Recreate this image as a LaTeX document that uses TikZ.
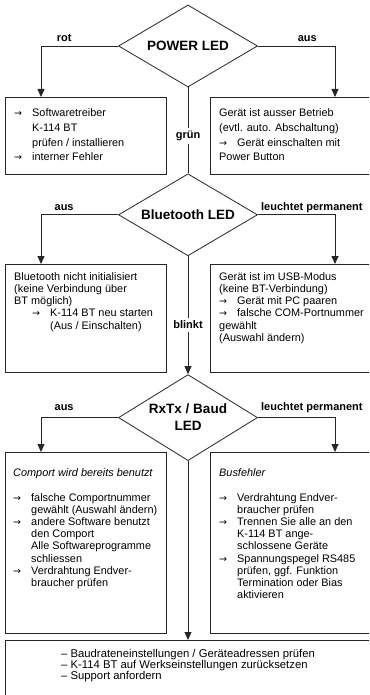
\documentclass[tikz,border=0pt]{standalone}
\usepackage{fontspec}
\setmainfont{Liberation Sans}
\newfontfamily\symfont{DejaVu Sans}
\usepackage{tikz}
\usetikzlibrary{shapes.geometric, positioning, arrows.meta}
\tikzset {
    >={Triangle[width=7pt,length=8pt]},
    decision/.style={diamond, aspect=1.7, draw=black!85, line width=0.8pt, minimum width=139pt,
        minimum height=82pt, inner sep=0pt, align=center,
        font=\fontsize{13.5}{17}\selectfont\bfseries},
    infobox/.style={draw=black!85, line width=0.7pt, anchor=north west, inner sep=0pt},
    infotext/.style={anchor=north west, inner sep=0pt, align=left,
        font=\fontsize{10.9}{12.1}\selectfont},
    lbl/.style={font=\fontsize{11}{12}\selectfont\bfseries, anchor=base, yshift=4pt},
    midlbl/.style={font=\fontsize{11}{12}\selectfont\bfseries, fill=white, inner sep=3pt},
    flow/.style={draw=black!85, line width=0.8pt}
}
\newcommand{\pfeil}{\makebox[18pt][l]{\symfont\fontsize{9.5}{10}\selectfont →}}
\newcommand{\einr}{\hspace*{18pt}}

\begin{document}
\begin{tikzpicture}[x=1pt, y=-1pt]
    \useasboundingbox (0,0) rectangle (369,695);
    \clip (0,0) rectangle (369,695);

    % decisions
    \node[decision] (power) at (188,46) {POWER LED};
    \node[decision, below=86pt of power] (bt) {Bluetooth LED};
    \node[decision, minimum height=86pt, below=118pt of bt] (rx) {RxTx / Baud\\LED};

    % boxes
    \node[infobox, minimum width=161pt, minimum height=77pt] (b1l) at (5,97) {};
    \node[infobox, minimum width=170pt, minimum height=77pt] (b1r) at (210,97) {};
    \node[infobox, minimum width=161pt, minimum height=108pt] (b2l) at (5,264) {};
    \node[infobox, minimum width=170pt, minimum height=108pt] (b2r) at (210,264) {};
    \node[infobox, minimum width=161pt, minimum height=181pt] (b3l) at (5,452) {};
    \node[infobox, minimum width=170pt, minimum height=181pt] (b3r) at (210,452) {};
    \node[infobox, minimum width=375pt, minimum height=80pt] (bot) at (5,640) {};

    \coordinate (xl) at (41,0);
    \coordinate (xr) at (335,0);

    % box texts
    \node[infotext, font=\fontsize{10.9}{14.8}\selectfont] (t1l) at (14,108.5)
        {\pfeil Softwaretreiber\\ \einr K-114 BT\\ \einr prüfen / installieren\\ \pfeil interner Fehler};
    \node[infotext, font=\fontsize{10.9}{14.8}\selectfont] (t1r) at (219,108.5)
        {Gerät ist ausser Betrieb\\ (evtl. auto. Abschaltung)\\ \pfeil Gerät einschalten mit\\ Power Button};
    \node[infotext] (t2l) at (14,272.5)
        {Bluetooth nicht initialisiert\\ (keine Verbindung über\\ BT möglich)\\ \einr\pfeil K-114 BT neu starten\\ \einr\einr (Aus / Einschalten)};
    \node[infotext] (t2r) at (219,272.5)
        {Gerät ist im USB-Modus\\ (keine BT-Verbindung)\\ \pfeil Gerät mit PC paaren\\ \pfeil falsche COM-Portnummer\\ gewählt\\ (Auswahl ändern)};
    \node[infotext] (t3l) at (13,468.5)
        {\textit{Comport wird bereits benutzt}\\[12.8pt] \pfeil falsche Comportnummer\\ \einr gewählt (Auswahl ändern)\\ \pfeil andere Software benutzt\\ \einr den Comport\\ \einr Alle Softwareprogramme\\ \einr schliessen\\ \pfeil Verdrahtung Endver-\\ \einr braucher prüfen};
    \node[infotext] (t3r) at (219,468.5)
        {\textit{Busfehler}\\[12.8pt] \pfeil Verdrahtung Endver-\\ \einr braucher prüfen\\ \pfeil Trennen Sie alle an den\\ \einr K-114 BT ange-\\ \einr schlossene Geräte\\ \pfeil Spannungspegel RS485\\ \einr prüfen, ggf. Funktion\\ \einr Termination oder Bias\\ \einr aktivieren};
    \node[infotext, font=\fontsize{11.3}{11}\selectfont] (tbot) at (61,649.5)
        {– Baudrateneinstellungen / Geräteadressen prüfen\\ – K-114 BT auf Werkseinstellungen zurücksetzen\\ – Support anfordern};

    % connectors
    \draw[flow, ->] (power.west) -| node[lbl, pos=0.35] {rot} (xl |- b1l.north);
    \draw[flow, ->] (power.east) -| node[lbl, pos=0.32] {aus} (xr |- b1r.north);
    \draw[flow] (power.south) -- node[midlbl, pos=0.56] {grün} (bt.north);
    \draw[flow, ->] (bt.west) -| node[lbl, pos=0.35] {aus} (xl |- b2l.north);
    \draw[flow, ->] (bt.east) -| node[lbl, pos=0.35] {leuchtet permanent} (xr |- b2r.north);
    \draw[flow, ->] (bt.south) -- node[midlbl, pos=0.58] {blinkt} (rx.north);
    \draw[flow, ->] (rx.west) -| node[lbl, pos=0.35, yshift=3pt] {aus} (xl |- b3l.north);
    \draw[flow, ->] (rx.east) -| node[lbl, pos=0.35, yshift=3pt] {leuchtet permanent} (xr |- b3r.north);
    \draw[flow, ->] (rx.south) -- (rx.south |- bot.north);
\end{tikzpicture}
\end{document}
